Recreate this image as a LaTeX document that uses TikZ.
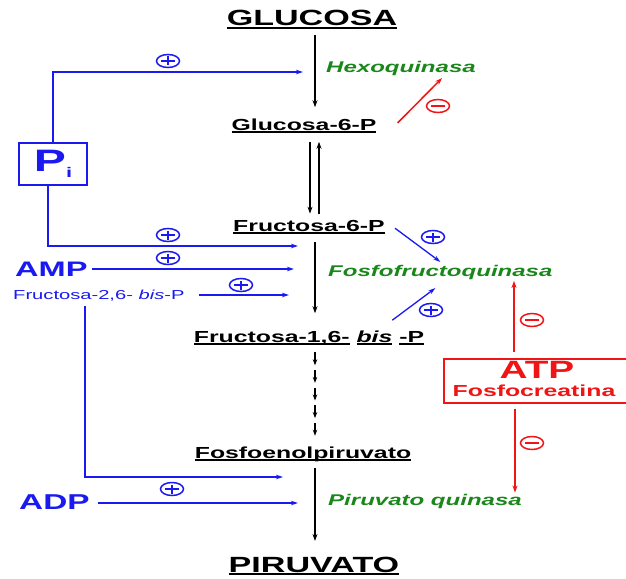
\documentclass[tikz,border=0pt]{standalone}
\usepackage{fontspec}
\setmainfont{Liberation Sans}[FakeStretch=1.55]
\usetikzlibrary{arrows.meta, shapes.geometric, calc}

\definecolor{regblue}{RGB}{25,25,240}
\definecolor{enzgreen}{RGB}{25,135,25}
\definecolor{inhred}{RGB}{240,20,20}

\newcommand{\fsz}[1]{\fontsize{#1}{#1}\selectfont}
\newcommand{\undl}[1]{\setbox0=\hbox{#1}\rlap{\rule[-2.6pt]{\wd0}{1.3pt}}\box0\relax}

\begin{document}
\begin{tikzpicture}[x=1pt, y=-1pt,
    metab/.style={anchor=base, inner sep=0pt, font=\fsz{16}\bfseries},
    big/.style={metab, font=\fsz{22}\bfseries},
    enzyme/.style={anchor=base west, inner sep=0pt, text=enzgreen, font=\fsz{15.5}\bfseries\itshape},
    reg/.style={anchor=base west, inner sep=0pt, text=regblue, font=\fsz{21}\bfseries},
    flow/.style={-{Stealth[length=7pt,width=5pt]}, line width=1.1pt},
    act/.style={-{Stealth[length=7pt,width=4.5pt]}, regblue, line width=1.3pt},
    inh/.style={-{Stealth[length=7pt,width=5pt]}, inhred, line width=1.5pt},
    sign/.style={ellipse, draw, line width=1.5pt, minimum width=23pt, minimum height=13pt, inner sep=0pt},
    plus/.style={sign, regblue, path picture={
        \draw[regblue, line width=1.5pt]
          ([xshift=-7pt]path picture bounding box.center) -- ([xshift=7pt]path picture bounding box.center)
          ([yshift=-4.5pt]path picture bounding box.center) -- ([yshift=4.5pt]path picture bounding box.center);}},
    minus/.style={sign, inhred, path picture={
        \draw[inhred, line width=1.5pt]
          ([xshift=-7pt]path picture bounding box.center) -- ([xshift=7pt]path picture bounding box.center);}},
    ]
    \useasboundingbox (0,0) rectangle (626,578);
    \coordinate (axis) at (315,0);
    \coordinate (axl) at (310,0);
    \coordinate (axr) at (319,0);

    % main pathway
    \node[big] (glc) at (312,26) {\undl{GLUCOSA}};
    \node[enzyme] (hk) at (326,73) {Hexoquinasa};
    \node[metab] (g6p) at (304,130) {\undl{Glucosa-6-P}};
    \node[metab] (f6p) at (309,231) {\undl{Fructosa-6-P}};
    \node[enzyme] (pfk) at (328,276) {Fosfofructoquinasa};
    \node[metab] (f16bp) at (309,342) {\undl{Fructosa-1,6-} \undl{\textit{bis}} \undl{-P}};
    \node[metab] (pep) at (303,458) {\undl{Fosfoenolpiruvato}};
    \node[enzyme] (pk) at (328,505) {Piruvato quinasa};
    \node[big] (pyr) at (314,572) {\undl{PIRUVATO}};

    % effectors
    \node[draw=regblue, line width=1.3pt, minimum width=68pt, minimum height=42pt,
          text=regblue, font=\fsz{31}\bfseries] (pi) at (53,164) {P\raisebox{-6pt}{\fsz{14}i}};
    \node[reg] (amp) at (15,276) {AMP};
    \node[reg, font=\fsz{13}] (f26bp) at (13,299) {Fructosa-2,6- \textit{bis}-P};
    \node[reg, font=\fsz{21.5}\bfseries] (adp) at (19,509) {ADP};

    \node[draw=inhred, line width=1.4pt, minimum width=186pt, minimum height=44pt] (atp) at (537,381) {};
    \node[anchor=base, inner sep=0pt, text=inhred, font=\fsz{25}\bfseries] (atptxt) at (537,378) {ATP};
    \node[anchor=base, inner sep=0pt, text=inhred, font=\fsz{16}\bfseries] (pcr) at (534,396) {Fosfocreatina};

    \coordinate (hkin) at (303,72);
    \coordinate (pfkin1) at (298,246);
    \coordinate (pfkin2) at (294,269);
    \coordinate (pfkin3) at (289,295);
    \coordinate (pkin1) at (283,477);
    \coordinate (pkin2) at (298,503);

    \path[flow]
    (glc.south -| axis) edge[shorten <=6pt, shorten >=11pt] (g6p.north -| axis)
    (g6p.south -| axl) edge[shorten <=9pt, shorten >=6pt] (f6p.north -| axl)
    (f6p.north -| axr) edge[shorten <=6pt, shorten >=9pt] (g6p.south -| axr)
    (f6p.south -| axis) edge[shorten <=8pt, shorten >=17pt] (f16bp.north -| axis)
    (pep.south -| axis) edge[shorten <=6.5pt, shorten >=15.5pt] (pyr.north -| axis);
    \foreach \k in {0,...,4}
        \draw[flow, -{Stealth[length=6pt,width=4.5pt]}] ($(f16bp.south -| axis)+(0,{7.5+17.6*\k})$) -- ++(0,13);

    % activation
    \draw[act] (pi.north) |- (hkin);
    \draw[act] ([xshift=-5pt]pi.south) |- (pfkin1);
    \draw[act, shorten <=4pt] (amp.east |- pfkin2) -- (pfkin2);
    \draw[act, shorten <=14pt] (f26bp.east |- pfkin3) -- (pfkin3);
    \draw[act, shorten <=5pt] ([xshift=-14pt]f26bp.south) |- (pkin1);
    \draw[act, shorten <=8pt] (adp.east |- pkin2) -- (pkin2);
    \draw[act] ([xshift=10pt,yshift=-1.5pt]f6p.east) -- ([yshift=2.7pt]pfk.north);
    \draw[act] ([xshift=-32pt,yshift=10pt]f16bp.north east) -- ([xshift=-5pt,yshift=-8.7pt]pfk.south);

    % inhibition
    \draw[inh] ([xshift=21pt,yshift=2.5pt]g6p.east) -- ([xshift=41pt,yshift=-1.7pt]hk.south);
    \coordinate (atpup) at ([xshift=-23pt,yshift=6pt]atp.north);
    \coordinate (atpdn) at ([xshift=-22pt,yshift=-5pt]atp.south);
    \draw[inh, shorten >=1.5pt] (atpup) -- (atpup |- pfk.south);
    \draw[inh, shorten >=1pt] (atpdn) -- (atpdn |- pk.north);

    % signs
    \foreach \sx/\sy [count=\i] in {168/61, 168/235, 168/258, 241/285, 172/489, 433/237, 431/310}
        \node[plus] (plus\i) at (\sx,\sy) {};
    \foreach \sx/\sy [count=\i] in {438/106, 532/320, 532/443}
        \node[minus] (minus\i) at (\sx,\sy) {};
\end{tikzpicture}
\end{document}
